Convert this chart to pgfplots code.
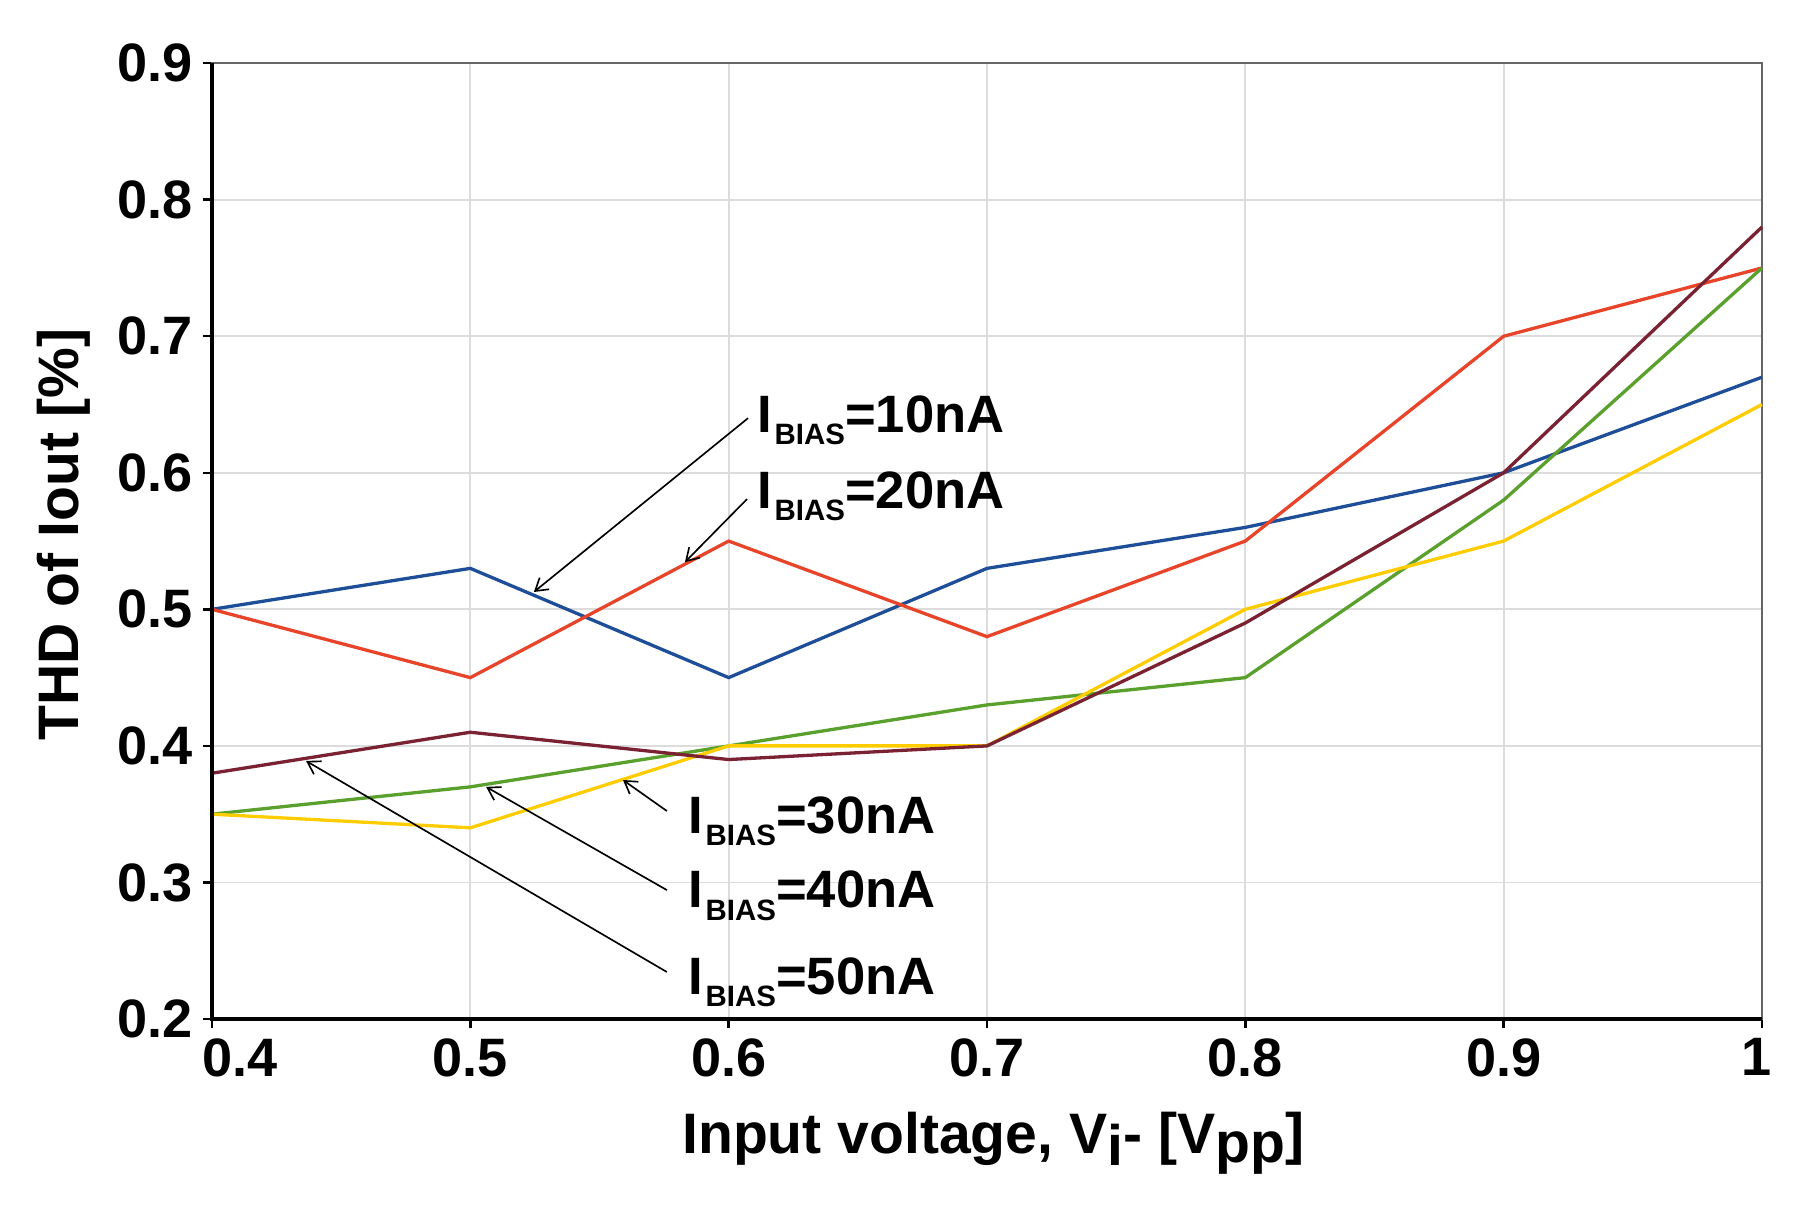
\documentclass[border=0pt]{standalone}
\usepackage{fontspec}
\setmainfont{Liberation Sans}
\usepackage{pgfplots}
\pgfplotsset{compat=1.18}
\usetikzlibrary{arrows.meta}
\definecolor{cblue}{HTML}{1F4E99}
\definecolor{cred}{HTML}{E8442A}
\definecolor{cmaroon}{HTML}{7B2232}
\definecolor{cgreen}{HTML}{5AA02C}
\definecolor{cyellow}{HTML}{FFCC00}
\definecolor{gridgray}{HTML}{DCDCDC}
\newcommand{\ib}[1]{I\kern0.8pt\raisebox{-4pt}{\fontsize{9.8}{10}\selectfont BIAS}=#1}
\begin{document}
\begin{tikzpicture}
\useasboundingbox (-70.55pt,-66.2pt) rectangle (529.45pt,339.1pt);
\begin{axis}[
  at={(0,0)}, anchor=south west,
  scale only axis, width=515.8pt, height=318.1pt,
  xmin=0.4, xmax=1, ymin=0.2, ymax=0.9,
  xtick={0.4,0.5,0.6,0.7,0.8,0.9,1},
  xticklabels={\hspace*{18.6pt}0.4,0.5,0.6,0.7,0.8,0.9,1\hspace*{3.4pt}},
  ytick={0.2,0.3,0.4,0.5,0.6,0.7,0.8,0.9},
  yticklabels={0.2,0.3,0.4,0.5,0.6,0.7,0.8,0.9},
  grid=major,
  major grid style={draw=gridgray, line width=0.6pt},
  axis line style={draw=black!60, line width=0.8pt},
  tick align=outside, major tick length=3pt,
  tick style={black, line width=0.8pt},
  xtick pos=bottom, ytick pos=left,
  /pgf/number format/assume math mode=true,
  ticklabel style={font=\bfseries\fontsize{18}{19}\selectfont},
  label style={font=\bfseries\fontsize{19}{20}\selectfont},
  xlabel={Input voltage, V\raisebox{-4pt}{i}- [V\raisebox{-3pt}{pp}]},
  ylabel={THD of Iout [\%]},
  xlabel style={at={(axis description cs:0.504,-0.1402)}, anchor=base},
  ylabel style={at={(axis description cs:-0.0955,0.507)}, anchor=center},
  clip=false,
]
\addplot[cblue, line width=1.1pt] coordinates {(0.4,0.50) (0.5,0.53) (0.6,0.45) (0.7,0.53) (0.8,0.56) (0.9,0.60) (1.0,0.67)};
\addplot[cred, line width=1.1pt] coordinates {(0.4,0.50) (0.5,0.45) (0.6,0.55) (0.7,0.48) (0.8,0.55) (0.9,0.70) (1.0,0.75)};
\addplot[cgreen, line width=1.1pt] coordinates {(0.4,0.35) (0.5,0.37) (0.6,0.40) (0.7,0.43) (0.8,0.45) (0.9,0.58) (1.0,0.75)};
\addplot[cyellow, line width=1.1pt] coordinates {(0.4,0.35) (0.5,0.34) (0.6,0.40) (0.7,0.40) (0.8,0.50) (0.9,0.55) (1.0,0.65)};
\addplot[cmaroon, line width=1.1pt] coordinates {(0.4,0.38) (0.5,0.41) (0.6,0.39) (0.7,0.40) (0.8,0.49) (0.9,0.60) (1.0,0.78)};

\draw[-{Straight Barb[length=4pt,width=5pt]}, line width=0.55pt] (axis cs:0.6075,0.640) -- (axis cs:0.5246,0.5127);
\draw[-{Straight Barb[length=4pt,width=5pt]}, line width=0.55pt] (axis cs:0.6071,0.5807) -- (axis cs:0.5831,0.5346);
\draw[-{Straight Barb[length=4pt,width=5pt]}, line width=0.55pt] (axis cs:0.5761,0.3523) -- (axis cs:0.5591,0.375);
\draw[-{Straight Barb[length=4pt,width=5pt]}, line width=0.55pt] (axis cs:0.5761,0.2944) -- (axis cs:0.5061,0.370);
\draw[-{Straight Barb[length=4pt,width=5pt]}, line width=0.55pt] (axis cs:0.5761,0.2344) -- (axis cs:0.4364,0.389);

\begin{scope}[every node/.style={anchor=base west, inner sep=0pt, font=\bfseries\fontsize{17.5}{18}\selectfont}]
\node at (axis cs:0.611,0.6298) {\ib{10nA}};
\node at (axis cs:0.611,0.5742) {\ib{20nA}};
\node at (axis cs:0.5843,0.3362) {\ib{30nA}};
\node at (axis cs:0.5843,0.2813) {\ib{40nA}};
\node at (axis cs:0.5843,0.2176) {\ib{50nA}};
\end{scope}
\draw[black, line width=1.5pt] (rel axis cs:0,1) -- (rel axis cs:0,0) -- (rel axis cs:1,0);
\end{axis}
\end{tikzpicture}
\end{document}
